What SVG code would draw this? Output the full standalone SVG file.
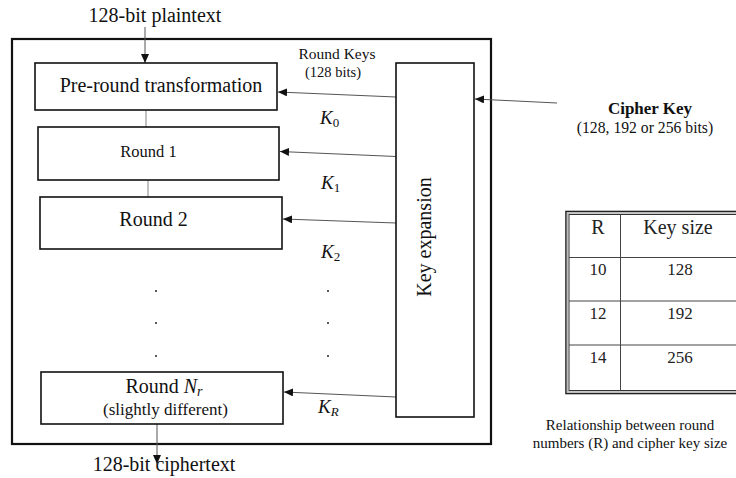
<svg xmlns="http://www.w3.org/2000/svg" width="736" height="478" viewBox="0 0 736 478">
  <style>
    text { font-family: "Liberation Serif", "Times New Roman", serif; fill: #111; }
    .box { fill: #fff; stroke: #111; stroke-width: 1.6; }
    .frame { fill: none; stroke: #111; stroke-width: 2.2; }
    .arrow { stroke: #555; stroke-width: 1; fill: none; marker-end: url(#head); }
    .link { stroke: #999; stroke-width: 1.2; fill: none; }
    .math { font-style: italic; }
    .dot { fill: #222; }
    .cell { fill: #222; }
  </style>
  <defs>
    <marker id="head" markerUnits="userSpaceOnUse" markerWidth="10" markerHeight="8" refX="9" refY="4" orient="auto">
      <path d="M0,0 L9,4 L0,8 z" fill="#111"/>
    </marker>
  </defs>

  <!-- outer frame of the cipher -->
  <rect class="frame" x="12" y="39" width="479" height="405"/>

  <!-- input / output labels -->
  <text x="155" y="22" font-size="20" text-anchor="middle">128-bit plaintext</text>
  <text x="164" y="471" font-size="20" text-anchor="middle">128-bit ciphertext</text>

  <!-- connectors -->
  <g id="connectors">
    <line class="arrow" x1="145" y1="27" x2="145" y2="63"/>
    <line class="link" x1="146" y1="110" x2="146" y2="127"/>
    <line class="link" x1="148" y1="180" x2="148" y2="197"/>
    <line class="arrow" x1="157" y1="424" x2="157" y2="464"/>
    <line class="arrow" x1="396" y1="97" x2="278" y2="92"/>
    <line class="arrow" x1="396" y1="156.5" x2="280" y2="151.5"/>
    <line class="arrow" x1="396" y1="223" x2="283" y2="219"/>
    <line class="arrow" x1="396" y1="397" x2="284" y2="392"/>
    <line class="arrow" x1="557" y1="103" x2="475" y2="99"/>
  </g>

  <!-- round blocks -->
  <g id="pre-round">
    <rect class="box" x="35" y="63" width="242" height="47"/>
    <text x="161" y="92" font-size="20" text-anchor="middle">Pre-round transformation</text>
  </g>
  <g id="round-1">
    <rect class="box" x="38" y="127" width="241" height="53"/>
    <text x="148.5" y="157" font-size="16.5" text-anchor="middle">Round 1</text>
  </g>
  <g id="round-2">
    <rect class="box" x="40" y="197" width="242" height="52"/>
    <text x="153.5" y="226" font-size="20" text-anchor="middle">Round 2</text>
  </g>
  <g id="round-nr">
    <rect class="box" x="41" y="372" width="242" height="52"/>
    <text x="164" y="393" font-size="20" text-anchor="middle">Round <tspan class="math">N</tspan><tspan class="math" font-size="14" dy="3">r</tspan></text>
    <text x="165.5" y="415" font-size="17" text-anchor="middle">(slightly different)</text>
  </g>

  <!-- elided rounds -->
  <g id="ellipsis">
    <circle class="dot" cx="156" cy="291" r="1"/>
    <circle class="dot" cx="156" cy="323" r="1"/>
    <circle class="dot" cx="156" cy="356" r="1"/>
    <circle class="dot" cx="328" cy="291" r="1"/>
    <circle class="dot" cx="328" cy="323" r="1"/>
    <circle class="dot" cx="328" cy="356" r="1"/>
  </g>

  <!-- key schedule -->
  <g id="key-expansion">
    <rect class="box" x="396" y="63" width="78" height="354"/>
    <text transform="translate(431,237) rotate(-90)" font-size="20" text-anchor="middle">Key expansion</text>
  </g>

  <g id="round-keys">
    <text x="337" y="59" font-size="15.5" text-anchor="middle">Round Keys</text>
    <text x="333" y="77" font-size="14.5" text-anchor="middle">(128 bits)</text>
    <text x="320" y="124" font-size="19"><tspan class="math">K</tspan><tspan font-size="13" dy="3">0</tspan></text>
    <text x="321" y="189" font-size="19"><tspan class="math">K</tspan><tspan font-size="13" dy="3">1</tspan></text>
    <text x="321" y="258" font-size="19"><tspan class="math">K</tspan><tspan font-size="13" dy="3">2</tspan></text>
    <text x="318" y="413" font-size="19"><tspan class="math">K</tspan><tspan class="math" font-size="13" dy="3">R</tspan></text>
  </g>

  <g id="cipher-key">
    <text x="650" y="114" font-size="17" font-weight="bold" text-anchor="middle">Cipher Key</text>
    <text x="645" y="133" font-size="15.7" text-anchor="middle">(128, 192 or 256 bits)</text>
  </g>

  <!-- rounds vs key size table -->
  <g id="size-table">
    <rect x="566" y="211.5" width="180" height="182" fill="#fff" stroke="#222" stroke-width="1.6"/>
    <rect x="567.5" y="213" width="180" height="179" fill="none" stroke="#bbb" stroke-width="1.6"/>
    <rect x="569" y="214.5" width="180" height="176" fill="none" stroke="#333" stroke-width="1"/>
    <line x1="620.5" y1="214.5" x2="620.5" y2="390.5" stroke="#444" stroke-width="1"/>
    <line x1="569" y1="257.5" x2="736" y2="257.5" stroke="#444" stroke-width="1"/>
    <line x1="569" y1="301" x2="736" y2="301" stroke="#444" stroke-width="1"/>
    <line x1="569" y1="345" x2="736" y2="345" stroke="#444" stroke-width="1"/>
    <text class="cell" x="598" y="234" font-size="20" text-anchor="middle">R</text>
    <text class="cell" x="678" y="234" font-size="20" text-anchor="middle">Key size</text>
    <text class="cell" x="598" y="275" font-size="17" text-anchor="middle">10</text>
    <text class="cell" x="680" y="275" font-size="17" text-anchor="middle">128</text>
    <text class="cell" x="598" y="319" font-size="17" text-anchor="middle">12</text>
    <text class="cell" x="680" y="319" font-size="17" text-anchor="middle">192</text>
    <text class="cell" x="598" y="363" font-size="17" text-anchor="middle">14</text>
    <text class="cell" x="680" y="363" font-size="17" text-anchor="middle">256</text>
  </g>

  <g id="caption">
    <text x="630" y="430" font-size="15" text-anchor="middle">Relationship between round</text>
    <text x="630" y="448" font-size="15" text-anchor="middle">numbers (R) and cipher key size</text>
  </g>
</svg>
